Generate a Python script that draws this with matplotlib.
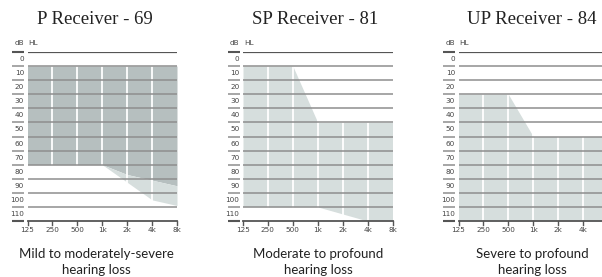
import matplotlib
matplotlib.use("Agg")
import matplotlib.pyplot as plt

# frequencies along the bottom, equally spaced
freq_labels = ['125', '250', '500', '1k', '2k', '4k', '8k']
db_labels = ['0', '10', '20', '30', '40', '50', '60', '70', '80', '90', '100', '110']

titles = ['P Receiver - 69', 'SP Receiver - 81', 'UP Receiver - 84']
captions = ['Mild to moderately-severe\nhearing loss',
            'Moderate to profound\nhearing loss',
            'Severe to profound\nhearing loss']

# P receiver: dark (main) range and light (extended) range
p_dark_top = [10, 10, 10, 10, 10, 10, 10]
p_dark_bottom = [80, 80, 80, 80, 87, 91, 95]
p_light_bottom = [80, 80, 80, 80, 92.5, 105, 109]

# SP receiver
sp_top = [10, 10, 10, 50, 50, 50, 50]
sp_bottom = [110, 110, 110, 110, 115, 120, 120]

# UP receiver
up_top = [30, 30, 30, 60, 60, 60, 60]
up_bottom = [120, 120, 120, 120, 120, 120, 120]

DARK = '#b6bfbf'
LIGHT = '#d6dedd'
GRID = '#8e8e8e'
AXIS = '#555555'
TXT = '#444444'

W, H = 602, 277
fig = plt.figure(figsize=(W / 100, H / 100), dpi=100)

ax_left = [27.5, 243.0, 458.5]
ax_width = 149.5
ax_top = 52.0
ax_bottom = 221.0
title_x = [95, 315, 532]
caption_x = [96, 318, 532]


def make_axes(left):
    ax = fig.add_axes([left / W, 1 - ax_bottom / H, ax_width / W, (ax_bottom - ax_top) / H])
    ax.set_xlim(0, 6)
    ax.set_ylim(120, 0)
    ax.axis('off')
    return ax


def draw_frame(ax, left):
    x = list(range(len(freq_labels)))
    # white vertical grid over the shaded areas
    for xi in x[1:-1]:
        ax.axvline(xi, color='white', lw=1.3, zorder=2)
    # horizontal rows
    for yv in range(10, 120, 10):
        ax.axhline(yv, color=GRID, lw=1.1, zorder=3)
    ax.axhline(0, color=AXIS, lw=1.6, zorder=4)
    ax.axhline(120, color=AXIS, lw=1.3, zorder=4, clip_on=False)

    # short segments in the label column
    px = 1 / ax_width
    for yv in range(0, 130, 10):
        strong = yv in (0, 120)
        ax.plot([-15.5 * px, -3.5 * px], [yv, yv], transform=ax.get_yaxis_transform(),
                color=AXIS if strong else GRID, lw=1.5 if strong else 1.1,
                clip_on=False, solid_capstyle='butt')

    # dB labels centred in each row
    for i, lab in enumerate(db_labels):
        ax.text(-3.5 * px, i * 10 + 5, lab, transform=ax.get_yaxis_transform(),
                ha='right', va='center', fontsize=5.2, color=TXT, family='DejaVu Sans')
    ax.text(-3.5 * px, -4.5, 'dB', transform=ax.get_yaxis_transform(),
            ha='right', va='bottom', fontsize=5.2, color=TXT, family='DejaVu Sans')
    ax.text(1 * px, -4.5, 'HL', transform=ax.get_yaxis_transform(),
            ha='left', va='bottom', fontsize=5.2, color=TXT, family='DejaVu Sans')

    # bottom ticks and frequency labels (labels past the picture edge are cropped away)
    step = ax_width / (len(x) - 1)
    for xi, lab in zip(x, freq_labels):
        ax.plot([xi, xi], [120, 122.5], color=AXIS, lw=1.0, clip_on=False)
        if left + xi * step + 6 > W:
            continue
        ax.text(xi, 126.5, lab, ha='center', va='center', fontsize=5.2,
                color=TXT, family='DejaVu Sans', clip_on=False)


axes = [make_axes(l) for l in ax_left]
x = list(range(len(freq_labels)))

axes[0].fill_between(x, p_dark_top, p_dark_bottom, color=DARK, lw=0, zorder=1)
axes[0].fill_between(x, p_dark_bottom, p_light_bottom, color=LIGHT, lw=0, zorder=1)
axes[1].fill_between(x, sp_top, sp_bottom, color=LIGHT, lw=0, zorder=1)
axes[2].fill_between(x, up_top, up_bottom, color=LIGHT, lw=0, zorder=1)

for ax, l in zip(axes, ax_left):
    draw_frame(ax, l)

for i in range(3):
    fig.text(title_x[i] / W, 1 - 19 / H, titles[i], ha='center', va='center',
             fontsize=13.5, color='#222222', family='Liberation Serif')
    fig.text(caption_x[i] / W, 1 - 261.5 / H, captions[i], ha='center', va='center',
             fontsize=9.5, color='#222222', family='Lato', linespacing=1.4)

fig.savefig('out.png', dpi=100, facecolor='white')
